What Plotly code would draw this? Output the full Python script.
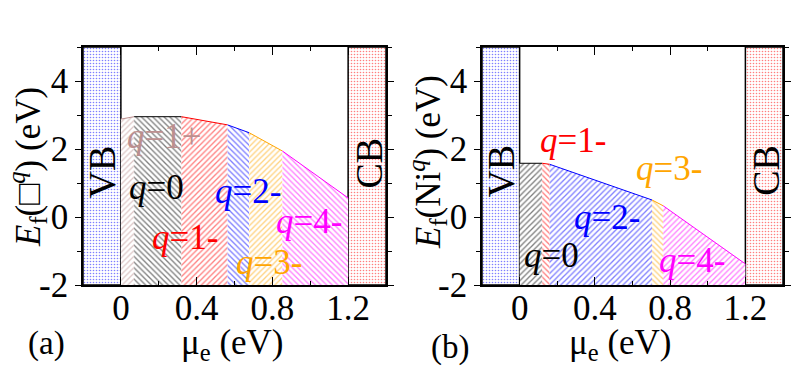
import plotly.graph_objects as go

# ---------------- data ----------------
# panel (a): vacancy
mu_a = [0.0, 0.07, 0.32, 0.563, 0.677, 0.853, 1.2]
E_a = [2.88, 2.95, 2.95, 2.71, 2.48, 1.94, 0.56]
q_a = ["1+", "0", "1-", "2-", "3-", "4-"]

# panel (b): Ni
mu_b = [0.0, 0.12, 0.16, 0.704, 0.763, 1.2]
E_b = [1.58, 1.58, 1.55, 0.50, 0.33, -1.38]
q_b = ["0", "1-", "2-", "3-", "4-"]

vb_range = [-0.2, 0.0]
cb_range = [1.2, 1.4]
y_min, y_max = -2, 5

xticks = [0, 0.4, 0.8, 1.2]
xtick_text = ["0", "0.4", "0.8", "1.2"]
yticks = [-2, 0, 2, 4]
ytick_text = ["-2", "0", "2", "4"]

# label positions (mu, E) per charge state
lab_a = {"1+": (0.23, 2.37), "0": (0.19, 0.87), "1-": (0.34, -0.61),
         "2-": (0.67, 0.75), "3-": (0.78, -1.35), "4-": (0.995, -0.14)}
lab_b = {"1-": (0.283, 2.24), "3-": (0.795, 1.42), "2-": (0.463, -0.02),
         "0": (0.167, -1.14), "4-": (0.915, -1.29)}

colors = {"1+": "#BC8F8F", "0": "#000000", "1-": "#FF0000", "2-": "#0000FF",
          "3-": "#FFA500", "4-": "#FF00FF"}

FONT = "Liberation Serif"

fig = go.Figure()


def add_panel(mu, E, qs, xa, ya, first_shape):
    # VB / CB boxes
    for rng, col in ((vb_range, "#0000FF"), (cb_range, "#FF0000")):
        fig.add_trace(go.Scatter(
            x=[rng[0], rng[0], rng[1], rng[1], rng[0]],
            y=[y_min, y_max, y_max, y_min, y_min],
            fill="toself", mode="lines",
            line=dict(color="black", width=1.5),
            fillcolor="white",
            fillpattern=dict(shape=".", fgcolor=col, bgcolor="white",
                             size=3, solidity=0.22),
            xaxis=xa, yaxis=ya, showlegend=False, hoverinfo="skip"))
    shapes = ["/", "\\"]
    for i, q in enumerate(qs):
        x0, x1 = mu[i], mu[i + 1]
        y0, y1 = E[i], E[i + 1]
        sh = shapes[(i + first_shape) % 2]
        fig.add_trace(go.Scatter(
            x=[x0, x0, x1, x1, x0], y=[y_min, y0, y1, y_min, y_min],
            fill="toself", mode="lines", line=dict(width=0, color=colors[q]),
            fillcolor="rgba(0,0,0,0)",
            fillpattern=dict(shape=sh, fgcolor=colors[q], bgcolor="white",
                             size=4, solidity=0.33),
            xaxis=xa, yaxis=ya, showlegend=False, hoverinfo="skip"))
        fig.add_trace(go.Scatter(
            x=[x0, x1], y=[y0, y1], mode="lines",
            line=dict(color=colors[q], width=1),
            xaxis=xa, yaxis=ya, showlegend=False, hoverinfo="skip"))


add_panel(mu_a, E_a, q_a, "x", "y", 0)
add_panel(mu_b, E_b, q_b, "x2", "y2", 0)

ann = []
for q, (x, y) in lab_a.items():
    ann.append(dict(x=x, y=y, xref="x", yref="y", showarrow=False,
                    text="<i>q</i>=" + q,
                    font=dict(family=FONT, size=35, color=colors[q])))
for q, (x, y) in lab_b.items():
    ann.append(dict(x=x, y=y, xref="x2", yref="y2", showarrow=False,
                    text="<i>q</i>=" + q,
                    font=dict(family=FONT, size=35, color=colors[q])))
for xr, yr, vbpos, cbpos in (("x", "y", (-0.1, 1.34), (1.31, 1.6)),
                             ("x2", "y2", (-0.1, 1.36), (1.31, 1.36))):
    ann.append(dict(x=vbpos[0], y=vbpos[1], xref=xr, yref=yr, showarrow=False,
                    text="VB", textangle=-90,
                    font=dict(family=FONT, size=38, color="black")))
    ann.append(dict(x=cbpos[0], y=cbpos[1], xref=xr, yref=yr, showarrow=False,
                    text="CB", textangle=-90,
                    font=dict(family=FONT, size=38, color="black")))

W, H = 792, 387
C = dict(xref="paper", yref="paper", showarrow=False,
         xanchor="center", yanchor="middle")
# axis titles and panel labels (paper coords)
ann += [
    dict(C, x=232 / W, y=1 - 344 / H, text="μ<sub>e</sub> (eV)",
         font=dict(family=FONT, size=35, color="black")),
    dict(C, x=620 / W, y=1 - 344 / H, text="μ<sub>e</sub> (eV)",
         font=dict(family=FONT, size=35, color="black")),
    dict(C, x=46 / W, y=1 - 343 / H, text="(a)",
         font=dict(family=FONT, size=33, color="black")),
    dict(C, x=450 / W, y=1 - 347 / H, text="(b)",
         font=dict(family=FONT, size=33, color="black")),
    dict(C, x=27 / W, y=1 - 167 / H, textangle=-90,
         text="<i>E</i><sub>f</sub>(□<sup><i>q</i></sup>) (eV)",
         font=dict(family=FONT, size=35, color="black")),
    dict(C, x=427 / W, y=1 - 162 / H, textangle=-90,
         text="<i>E</i><sub>f</sub>(Ni<sup><i>q</i></sup>) (eV)",
         font=dict(family=FONT, size=35, color="black")),
]

xaxis_common = dict(range=[-0.2, 1.4], tickvals=xticks, ticktext=xtick_text,
                    ticks="inside", ticklen=8, tickwidth=1, tickcolor="black",
                    minor=dict(dtick=0.2, tick0=0, ticks="inside", ticklen=4,
                               tickcolor="black"),
                    showline=True, linecolor="black", linewidth=1.5,
                    mirror="ticks", showgrid=False, zeroline=False,
                    automargin=False, ticklabelstandoff=-9,
                    tickfont=dict(family=FONT, size=35, color="black"),
                    fixedrange=True)
yaxis_common = dict(range=[y_min, y_max], tickvals=yticks, ticktext=ytick_text,
                    ticks="outside", ticklen=6, tickwidth=1, tickcolor="black",
                    minor=dict(dtick=1, tick0=0, ticks="outside", ticklen=4,
                               tickcolor="black"),
                    showline=True, linecolor="black", linewidth=1.5,
                    mirror="ticks", showgrid=False, zeroline=False,
                    automargin=False,
                    tickfont=dict(family=FONT, size=35, color="black"),
                    fixedrange=True)

dom_y = [1 - 285 / H, 1 - 47 / H]
fig.update_layout(
    width=W, height=H, margin=dict(l=0, r=0, t=0, b=0),
    paper_bgcolor="white", plot_bgcolor="white", showlegend=False,
    font=dict(family=FONT, color="black"),
    xaxis=dict(xaxis_common, domain=[83 / W, 386 / W], anchor="y"),
    yaxis=dict(yaxis_common, domain=dom_y, anchor="x"),
    xaxis2=dict(xaxis_common, domain=[482 / W, 783 / W], anchor="y2"),
    yaxis2=dict(yaxis_common, domain=dom_y, anchor="x2"),
    annotations=ann,
)

fig.write_html("out.html", config={"displayModeBar": False},
               post_script="document.body.style.margin='0';"
                           "document.body.style.padding='0';")
